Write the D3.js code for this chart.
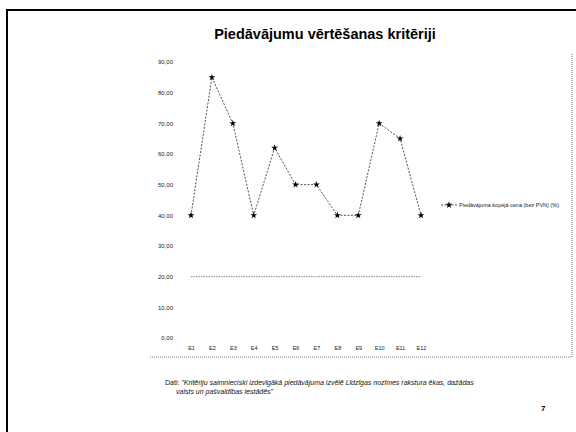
<!DOCTYPE html>
<html lang="lv">
<head>
<meta charset="UTF-8">
<title>Piedāvājumu vērtēšanas kritēriji</title>
<script src="https://d3js.org/d3.v7.min.js"></script>
<style>
    body { margin: 0; background: #fff; }
    svg { display: block; font-family: "Liberation Sans", Arial, sans-serif; }
</style>
</head>
<body>
<div id="chart"></div>
<script>
    // values
    var categories = ["E1", "E2", "E3", "E4", "E5", "E6", "E7", "E8", "E9", "E10", "E11", "E12"];
    var priceShare = [40, 85, 70, 40, 62, 50, 50, 40, 40, 70, 65, 40];
    var threshold = [20, 20, 20, 20, 20, 20, 20, 20, 20, 20, 20, 20];
    var yTicks = [0, 10, 20, 30, 40, 50, 60, 70, 80, 90];
    var seriesName = "Piedāvājuma kopējā cena (bez PVN) (%)";

    var W = 576, H = 432;
    var svg = d3.select("#chart").append("svg")
        .attr("width", W).attr("height", H);

    // slide frame
    svg.append("path")
        .attr("d", "M7,432 L7,10 L576,10")
        .attr("fill", "none").attr("stroke", "#000").attr("stroke-width", 2);

    // dotted chart box (right and bottom)
    svg.append("path")
        .attr("d", "M150,357 L572,357 L572,53")
        .attr("fill", "none").attr("stroke", "#777")
        .attr("stroke-width", 1).attr("stroke-dasharray", "1,1");

    svg.append("text")
        .attr("x", 325).attr("y", 39)
        .attr("text-anchor", "middle")
        .style("font-size", "14.5px").style("font-weight", "bold")
        .text("Piedāvājumu vērtēšanas kritēriji");

    var x = d3.scalePoint().domain(categories).range([191, 421]);
    var y = d3.scaleLinear().domain([0, 90]).range([338, 62]);

    // y labels, no axis line
    var yAxis = svg.append("g")
        .attr("transform", "translate(176,0)")
        .call(d3.axisLeft(y).tickValues(yTicks).tickSize(0)
            .tickFormat(function(d) { return d3.format(".2f")(d).replace(".", ","); }));
    yAxis.select(".domain").remove();
    yAxis.selectAll("text").style("font-size", "6px").attr("fill", "#222")
        .style("font-family", "'Liberation Sans', Arial, sans-serif");

    var xAxis = svg.append("g")
        .attr("transform", "translate(0,343)")
        .call(d3.axisBottom(x).tickSize(0));
    xAxis.select(".domain").remove();
    xAxis.selectAll("text").style("font-size", "5.5px").attr("fill", "#222")
        .style("font-family", "'Liberation Sans', Arial, sans-serif");

    // threshold series at 20
    var line = d3.line()
        .x(function(d, i) { return x(categories[i]); })
        .y(function(d) { return y(d); });
    svg.append("path")
        .datum(threshold)
        .attr("d", line)
        .attr("fill", "none").attr("stroke", "#888")
        .attr("stroke-width", 1).attr("stroke-dasharray", "1.5,1");

    svg.append("path")
        .datum(priceShare)
        .attr("d", line)
        .attr("fill", "none").attr("stroke", "#222")
        .attr("stroke-width", 0.8).attr("stroke-dasharray", "2,1.5");

    var star = d3.symbol().type(d3.symbolStar).size(15);
    svg.append("g").selectAll("path.mk")
        .data(priceShare).enter().append("path")
        .attr("class", "mk")
        .attr("d", star)
        .attr("transform", function(d, i) { return "translate(" + x(categories[i]) + "," + y(d) + ")"; })
        .attr("fill", "#000");

    // legend
    var lg = svg.append("g").attr("transform", "translate(441,205)");
    lg.append("line").attr("x1", 0).attr("x2", 16)
        .attr("stroke", "#222").attr("stroke-width", 0.8).attr("stroke-dasharray", "2,1.5");
    lg.append("path").attr("d", star).attr("transform", "translate(8,0)").attr("fill", "#000");
    lg.append("text").attr("x", 18).attr("y", 2)
        .style("font-size", "5.5px").attr("fill", "#222")
        .text(seriesName);

    // source note
    var note = svg.append("text").attr("x", 165).attr("y", 385)
        .style("font-size", "7px").attr("fill", "#111");
    note.append("tspan").text("Dati: ");
    note.append("tspan").style("font-style", "italic")
        .text("\"Kritēriju saimnieciski izdevīgākā piedāvājuma izvēlē Līdzīgas nozīmes rakstura ēkas, dažādas");
    svg.append("text").attr("x", 176).attr("y", 394)
        .style("font-size", "7px").style("font-style", "italic").attr("fill", "#111")
        .text("valsts un pašvaldības iestādēs\"");

    svg.append("text").attr("x", 541).attr("y", 411)
        .style("font-size", "8px").style("font-weight", "bold")
        .text("7");
</script>
</body>
</html>
